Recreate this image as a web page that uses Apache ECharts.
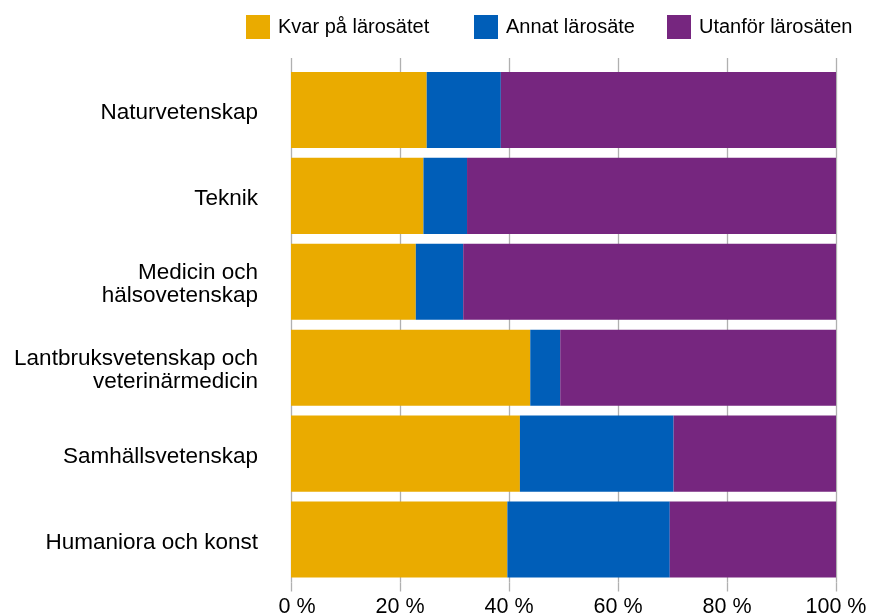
<!DOCTYPE html>
<html>
<head>
<meta charset="utf-8">
<script src="https://cdn.jsdelivr.net/npm/echarts@6/dist/echarts.min.js"></script>
<style>
html,body{margin:0;padding:0;background:#fff;}
#chart{width:869px;height:615px;}
</style>
</head>
<body>
<div id="chart"></div>
<script>
const categories = ["Naturvetenskap", "Teknik", "Medicin och\nhälsovetenskap", "Lantbruksvetenskap och\nveterinärmedicin", "Samhällsvetenskap", "Humaniora och konst"];
const seriesNames = ["Kvar på lärosätet", "Annat lärosäte", "Utanför lärosäten"];
const kvar = [24.9, 24.3, 22.9, 43.9, 42.0, 39.7];
const annat = [13.6, 8.0, 8.7, 5.5, 28.2, 29.8];
const utanfor = [61.5, 67.7, 68.4, 50.6, 29.8, 30.5];
const tickValues = [0, 20, 40, 60, 80, 100];
const colors = ["#EAAB00", "#005EB8", "#76267F"];

const font = "'Liberation Sans', Arial, sans-serif";
const chart = echarts.init(document.getElementById('chart'));
const mk = (name, data, color) => ({
  name, type: 'bar', stack: 'total', data, xAxisIndex: 0,
  itemStyle: { color }, barCategoryGap: '11.5%', emphasis: { disabled: true }
});
const legendLefts = [246, 474, 667];
const legends = seriesNames.map((n, i) => ({
  left: legendLefts[i], top: 15, padding: 0, itemWidth: 24, itemHeight: 24,
  icon: 'rect', selectedMode: false,
  textStyle: { fontSize: 20, color: '#000', fontFamily: font, padding: [0, 0, 0, 3] },
  data: [n]
}));
chart.setOption({
  animation: false,
  color: colors,
  textStyle: { fontFamily: font },
  legend: legends,
  grid: { left: 291, right: 33, top: 67, bottom: 32.5, containLabel: false, outerBoundsMode: 'none' },
  xAxis: [{
    type: 'value', min: tickValues[0], max: tickValues[tickValues.length - 1], interval: 20,
    axisLine: { show: false },
    axisTick: { show: true, length: 9, lineStyle: { color: '#b0b0b0', width: 1.3 } },
    splitLine: { show: true, lineStyle: { color: '#b0b0b0', width: 1.3 } },
    axisLabel: {
      fontSize: 21.5, color: '#000', margin: 14, fontFamily: font,
      formatter: v => v === tickValues[0] ? '{z|' + v + ' %}' : v + ' %',
      rich: { z: { fontSize: 21.5, color: '#000', fontFamily: font, padding: [0, 0, 0, 12] } }
    }
  }, {
    type: 'value', position: 'top', min: tickValues[0], max: tickValues[tickValues.length - 1], interval: 20,
    axisLine: { show: false },
    axisTick: { show: true, length: 9, lineStyle: { color: '#b0b0b0', width: 1.3 } },
    splitLine: { show: false },
    axisLabel: { show: false }
  }],
  yAxis: {
    type: 'category', data: categories, inverse: true,
    axisLine: { show: false }, axisTick: { show: false },
    axisLabel: {
      margin: 33, align: 'right',
      formatter: v => v.split('\n').map(s => '{a|' + s + '}').join('\n'),
      rich: { a: { fontSize: 22.5, color: '#000', lineHeight: 23, fontFamily: font, align: 'right', padding: [6, 0, 0, 0] } }
    }
  },
  series: [mk(seriesNames[0], kvar, colors[0]), mk(seriesNames[1], annat, colors[1]), mk(seriesNames[2], utanfor, colors[2])]
});
</script>
</body>
</html>
